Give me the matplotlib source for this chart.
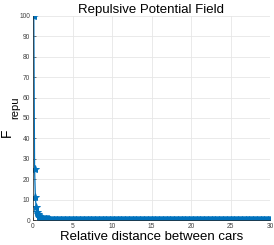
import numpy as np
import matplotlib
matplotlib.use('Agg')
from matplotlib import pyplot as plt

# Relative distance samples (0.1 .. 30.0, step 0.1)
distance = np.round(np.arange(1, 301) * 0.1, 1)

# Repulsive force; first 30 samples (x = 0.1 .. 3.0)
force_head = [
    100.0, 25.0, 11.1, 6.25, 4.0, 2.78, 2.04, 1.56, 1.23, 1.0,
    0.83, 0.69, 0.59, 0.51, 0.44, 0.39, 0.35, 0.31, 0.28, 0.25,
    0.23, 0.21, 0.19, 0.17, 0.16, 0.15, 0.14, 0.13, 0.12, 0.11,
]
# tail (x = 3.1 .. 30.0) sits on the zero line
force_tail = [0.08] * 10 + [0.04] * 10 + [0.02] * 50 + [0.0] * 200
force = force_head + force_tail

x_ticks = [0, 5, 10, 15, 20, 25, 30]
y_ticks = [0, 10, 20, 30, 40, 50, 60, 70, 80, 90, 100]

plt.rcParams['font.family'] = ['Liberation Sans', 'DejaVu Sans']

fig = plt.figure(figsize=(2.74, 2.45), dpi=100)
ax = fig.add_axes([33 / 274, 25 / 245, 237 / 274, 204 / 245])

ax.plot(distance, force, color='#0072BD', linewidth=0.9,
        marker='*', markersize=6, markeredgewidth=0.7)

ax.set_xlim(0, 30)
ax.set_ylim(0, 100)
ax.set_xticks(x_ticks)
ax.set_yticks(y_ticks)
ax.grid(True, color='#e6e6e6', linewidth=0.6)
ax.set_axisbelow(True)
ax.tick_params(labelsize=4.8, colors='#404040', length=2, width=0.5,
               direction='in', pad=2)
for side in ['top', 'right']:
    ax.spines[side].set_visible(False)
for side in ['left', 'bottom']:
    ax.spines[side].set_color('#262626')
    ax.spines[side].set_linewidth(0.5)

ax.set_title('Repulsive Potential Field', fontsize=9.5, pad=2)
ax.set_xlabel('Relative distance between cars', fontsize=9.5, labelpad=1)

# y label "F" with a dropped "repu" subscript
fig.text(7 / 274, 1 - 133 / 245, 'F', fontsize=10, rotation=90,
         ha='center', va='center')
fig.text(15 / 274, 1 - 108 / 245, 'repu', fontsize=8, rotation=90,
         ha='center', va='center')

fig.savefig('out.png', dpi=100)
